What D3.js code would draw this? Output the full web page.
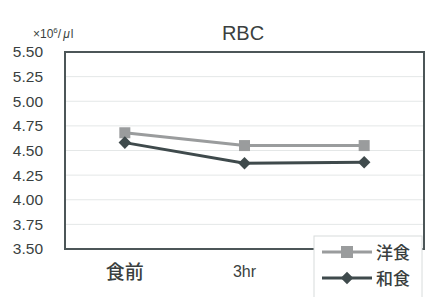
<!DOCTYPE html>
<html>
<head>
<meta charset="utf-8">
<script src="https://cdn.jsdelivr.net/npm/d3@7"></script>
<style>
  html, body { margin: 0; padding: 0; background: #fff; }
  svg { display: block; font-family: "Liberation Sans", Arial, sans-serif; }
</style>
</head>
<body>
<div id="chart"></div>
<script>
// categories and series
const categories = ['食前', '3hr', '6hr'];
const yousyoku = [4.68, 4.55, 4.55];   // 洋食
const wasyoku = [4.58, 4.37, 4.38];    // 和食
const yTicks = [3.50, 3.75, 4.00, 4.25, 4.50, 4.75, 5.00, 5.25, 5.50];
const seriesNames = ['洋食', '和食'];

const width = 426, height = 297;
const margin = { top: 52, right: 2, bottom: 48, left: 65 };
const plotW = width - margin.left - margin.right;
const plotH = height - margin.top - margin.bottom;

const svg = d3.select('#chart').append('svg')
  .attr('width', width)
  .attr('height', height);

const x = d3.scaleBand().domain(categories).range([0, plotW]);
const y = d3.scaleLinear().domain([3.5, 5.5]).range([plotH, 0]);

const g = svg.append('g').attr('transform', `translate(${margin.left},${margin.top})`);

// grid lines
g.append('g').selectAll('line')
  .data(yTicks.slice(1, -1))
  .join('line')
  .attr('x1', 0).attr('x2', plotW)
  .attr('y1', d => y(d)).attr('y2', d => y(d))
  .attr('stroke', '#e4e7e7')
  .attr('stroke-width', 1);

// y axis labels
const yAxis = g.append('g')
  .call(d3.axisLeft(y).tickValues(yTicks).tickFormat(d3.format('.2f')).tickSize(0).tickPadding(22));
yAxis.select('.domain').remove();
yAxis.selectAll('text')
  .attr('fill', '#3a3f40')
  .style('font-size', '15.5px');

// x axis labels
const xAxis = g.append('g')
  .attr('transform', `translate(0,${plotH})`)
  .call(d3.axisBottom(x).tickSize(0).tickPadding(17));
xAxis.select('.domain').remove();
xAxis.selectAll('text')
  .attr('fill', '#3a3f40')
  .style('font-size', d => d === '食前' ? '19px' : '16px')
  .style('font-weight', d => d === '食前' ? '500' : null)
  .style('font-family', d => d === '食前' ? '"Noto Sans CJK JP", sans-serif' : null);

// frame
g.append('rect')
  .attr('x', 0).attr('y', 0)
  .attr('width', plotW).attr('height', plotH)
  .attr('fill', 'none')
  .attr('stroke', '#4c5658')
  .attr('stroke-width', 2);

const line = d3.line()
  .x((d, i) => x(categories[i]) + x.bandwidth() / 2)
  .y(d => y(d));

const colors = ['#9a9c9d', '#3f4a4c'];
const series = [yousyoku, wasyoku];

series.forEach((vals, k) => {
  g.append('path')
    .datum(vals)
    .attr('d', line)
    .attr('fill', 'none')
    .attr('stroke', colors[k])
    .attr('stroke-width', 3);
});

// markers
g.selectAll('.sq')
  .data(yousyoku)
  .join('rect')
  .attr('class', 'sq')
  .attr('x', (d, i) => x(categories[i]) + x.bandwidth() / 2 - 5.5)
  .attr('y', d => y(d) - 5.5)
  .attr('width', 11).attr('height', 11)
  .attr('fill', colors[0]);

const diamond = d3.symbol().type(d3.symbolDiamond2).size(100);
g.selectAll('.dm')
  .data(wasyoku)
  .join('path')
  .attr('class', 'dm')
  .attr('d', diamond)
  .attr('transform', (d, i) => `translate(${x(categories[i]) + x.bandwidth() / 2},${y(d)})`)
  .attr('fill', colors[1]);

// unit label
const unit = svg.append('text')
  .attr('x', 33).attr('y', 38)
  .attr('fill', '#3a3f40')
  .style('font-size', '12px');
unit.append('tspan').text('×10');
unit.append('tspan').attr('dy', -5).style('font-size', '8px').text('6');
unit.append('tspan').attr('dy', 5).text('/');
unit.append('tspan').attr('dx', 2).style('font-style', 'italic').text('μ');
unit.append('tspan').attr('dx', 1).text('l');

// title
svg.append('text')
  .attr('x', 243).attr('y', 40)
  .attr('text-anchor', 'middle')
  .attr('fill', '#3a3f40')
  .style('font-size', '20px')
  .text('RBC');

// legend
const lg = svg.append('g').attr('transform', 'translate(314,236)');
lg.append('rect')
  .attr('width', 108).attr('height', 62)
  .attr('fill', '#fff')
  .attr('stroke', '#d8dcdc')
  .attr('stroke-width', 1);

seriesNames.forEach((name, k) => {
  const ry = 16 + k * 26;
  lg.append('line')
    .attr('x1', 8).attr('x2', 58)
    .attr('y1', ry).attr('y2', ry)
    .attr('stroke', colors[k])
    .attr('stroke-width', 3);
  if (k === 0) {
    lg.append('rect')
      .attr('x', 27).attr('y', ry - 6)
      .attr('width', 12).attr('height', 12)
      .attr('fill', colors[0]);
  } else {
    lg.append('path')
      .attr('d', diamond)
      .attr('transform', `translate(33,${ry})`)
      .attr('fill', colors[1]);
  }
  lg.append('text')
    .attr('x', 62).attr('y', ry + 6.5)
    .attr('fill', '#3a3f40')
    .style('font-family', '"Noto Sans CJK JP", sans-serif')
    .style('font-weight', '500')
    .style('font-size', '17px')
    .text(name);
});
</script>
</body>
</html>
